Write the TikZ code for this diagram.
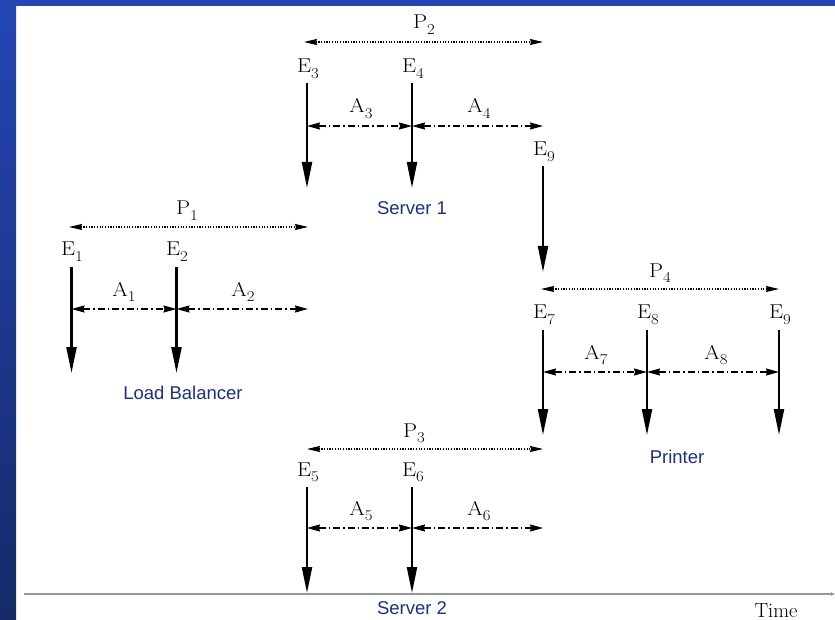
\documentclass[tikz,border=0pt]{standalone}
\usepackage{graphicx}
\usepackage{fontspec}
\setmainfont{Latin Modern Roman}
\newfontfamily\labsans{Liberation Sans}
\usetikzlibrary{arrows.meta}
\definecolor{navy}{RGB}{28,48,128}
\definecolor{barTop}{RGB}{36,70,180}
\definecolor{barBot}{RGB}{22,42,104}
\definecolor{axisgray}{RGB}{150,150,150}
\newcommand\lbl[2]{\scalebox{1.12}[1]{#1\raisebox{-5.5pt}{\fontsize{15}{16}\selectfont #2}}}
\begin{document}
\begin{tikzpicture}[x=1pt,y=-1pt,
  evt/.style={line width=2.2pt,-{Triangle[length=26pt,width=10pt]}},
  gap/.style={line width=1.2pt,dash pattern=on 7pt off 3pt on 1.5pt off 3pt,
    {Stealth[length=13pt,width=7pt,inset=1pt]}-{Stealth[length=13pt,width=7pt,inset=1pt]}},
  per/.style={line width=1.2pt,dash pattern=on 1.2pt off 1.5pt,
    {Stealth[length=13pt,width=6pt,inset=1pt]}-{Stealth[length=13pt,width=6pt,inset=1pt]}},
  lab/.style={font=\fontsize{20}{22}\selectfont,anchor=base,inner sep=0pt},
  res/.style={font=\labsans\fontsize{18.5}{20}\selectfont,text=navy,inner sep=0pt},
  timeaxis/.style={line width=2pt,draw=axisgray,-{Latex[length=4pt,width=4pt]}}
]
\useasboundingbox (0,0) rectangle (835,620);
\fill[white] (0,0) rectangle (835,620);
\shade[top color=barTop,bottom color=barBot] (0,0) rectangle (16,620);
\fill[barTop] (0,0) rectangle (835,6);

% time axis
\coordinate (axl) at (24,594);
\coordinate (axr) at (835,594);
\draw[timeaxis] (axl) -- (axr);
\node[lab,font=\fontsize{20.5}{24}\selectfont] (time) at (776,617) {Time};

% ---------- Load Balancer ----------
\coordinate (t1) at (71.5,267); \coordinate (b1) at (71.5,373);
\coordinate (t2) at (176.5,267); \coordinate (b2) at (176.5,373);
\node[lab] (e1) at (72,256) {\lbl{E}{1}};
\node[lab] (e2) at (177,256) {\lbl{E}{2}};
\draw[evt] (t1) -- (b1);
\draw[evt] (t2) -- (b2);
\coordinate (a1l) at (71.5,309); \coordinate (a1r) at (176.5,309);
\coordinate (a2r) at (308,309);
\draw[gap] (a1l) -- (a1r);
\draw[gap] (a1r) -- (a2r);
\node[lab] (la1) at (124,296) {\lbl{A}{1}};
\node[lab] (la2) at (243,296) {\lbl{A}{2}};
\coordinate (p1l) at (69,227); \coordinate (p1r) at (308,227);
\draw[per] (p1l) -- (p1r);
\node[lab] (lp1) at (187,215) {\lbl{P}{1}};
\node[res] (lb) at (183,393) {Load Balancer};

% ---------- Server 1 ----------
\coordinate (t3) at (307,83); \coordinate (b3) at (307,188);
\coordinate (t4) at (412,83); \coordinate (b4) at (412,188);
\node[lab] (e3) at (308,73) {\lbl{E}{3}};
\node[lab] (e4) at (413,73) {\lbl{E}{4}};
\draw[evt] (t3) -- (b3);
\draw[evt] (t4) -- (b4);
\coordinate (a3l) at (307,126); \coordinate (a3r) at (412,126);
\coordinate (a4r) at (543,126);
\draw[gap] (a3l) -- (a3r);
\draw[gap] (a3r) -- (a4r);
\node[lab] (la3) at (361,113) {\lbl{A}{3}};
\node[lab] (la4) at (479,113) {\lbl{A}{4}};
\coordinate (p2l) at (304,42); \coordinate (p2r) at (543,42);
\draw[per] (p2l) -- (p2r);
\node[lab] (lp2) at (424,29) {\lbl{P}{2}};
\node[res] (s1) at (412,208) {Server 1};

% E9 (upper)
\coordinate (t9u) at (543,166); \coordinate (b9u) at (543,272);
\node[lab] (e9u) at (544,156) {\lbl{E}{9}};
\draw[evt] (t9u) -- (b9u);

% ---------- Printer ----------
\coordinate (t7) at (543,330); \coordinate (b7) at (543,435);
\coordinate (t8) at (647,330); \coordinate (b8) at (647,435);
\coordinate (t9) at (779,330); \coordinate (b9) at (779,435);
\node[lab] (e7) at (544,319) {\lbl{E}{7}};
\node[lab] (e8) at (648,319) {\lbl{E}{8}};
\node[lab] (e9) at (780,319) {\lbl{E}{9}};
\draw[evt] (t7) -- (b7);
\draw[evt] (t8) -- (b8);
\draw[evt] (t9) -- (b9);
\coordinate (a7l) at (543,372); \coordinate (a7r) at (647,372);
\coordinate (a8r) at (779,372);
\draw[gap] (a7l) -- (a7r);
\draw[gap] (a7r) -- (a8r);
\node[lab] (la7) at (596,359) {\lbl{A}{7}};
\node[lab] (la8) at (716,359) {\lbl{A}{8}};
\coordinate (p4l) at (541,289); \coordinate (p4r) at (779,289);
\draw[per] (p4l) -- (p4r);
\node[lab] (lp4) at (660,277) {\lbl{P}{4}};
\node[res] (pr) at (677,457) {Printer};

% ---------- Server 2 ----------
\coordinate (t5) at (307,487); \coordinate (b5) at (307,593);
\coordinate (t6) at (412,487); \coordinate (b6) at (412,593);
\node[lab] (e5) at (308,476) {\lbl{E}{5}};
\node[lab] (e6) at (413,476) {\lbl{E}{6}};
\draw[evt] (t5) -- (b5);
\draw[evt] (t6) -- (b6);
\coordinate (a5l) at (307,528); \coordinate (a5r) at (412,528);
\coordinate (a6r) at (543,528);
\draw[gap] (a5l) -- (a5r);
\draw[gap] (a5r) -- (a6r);
\node[lab] (la5) at (361,515) {\lbl{A}{5}};
\node[lab] (la6) at (479,515) {\lbl{A}{6}};
\coordinate (p3l) at (307,449); \coordinate (p3r) at (543,449);
\draw[per] (p3l) -- (p3r);
\node[lab] (lp3) at (414,437) {\lbl{P}{3}};
\node[res] (s2) at (412,608) {Server 2};
\end{tikzpicture}
\end{document}
